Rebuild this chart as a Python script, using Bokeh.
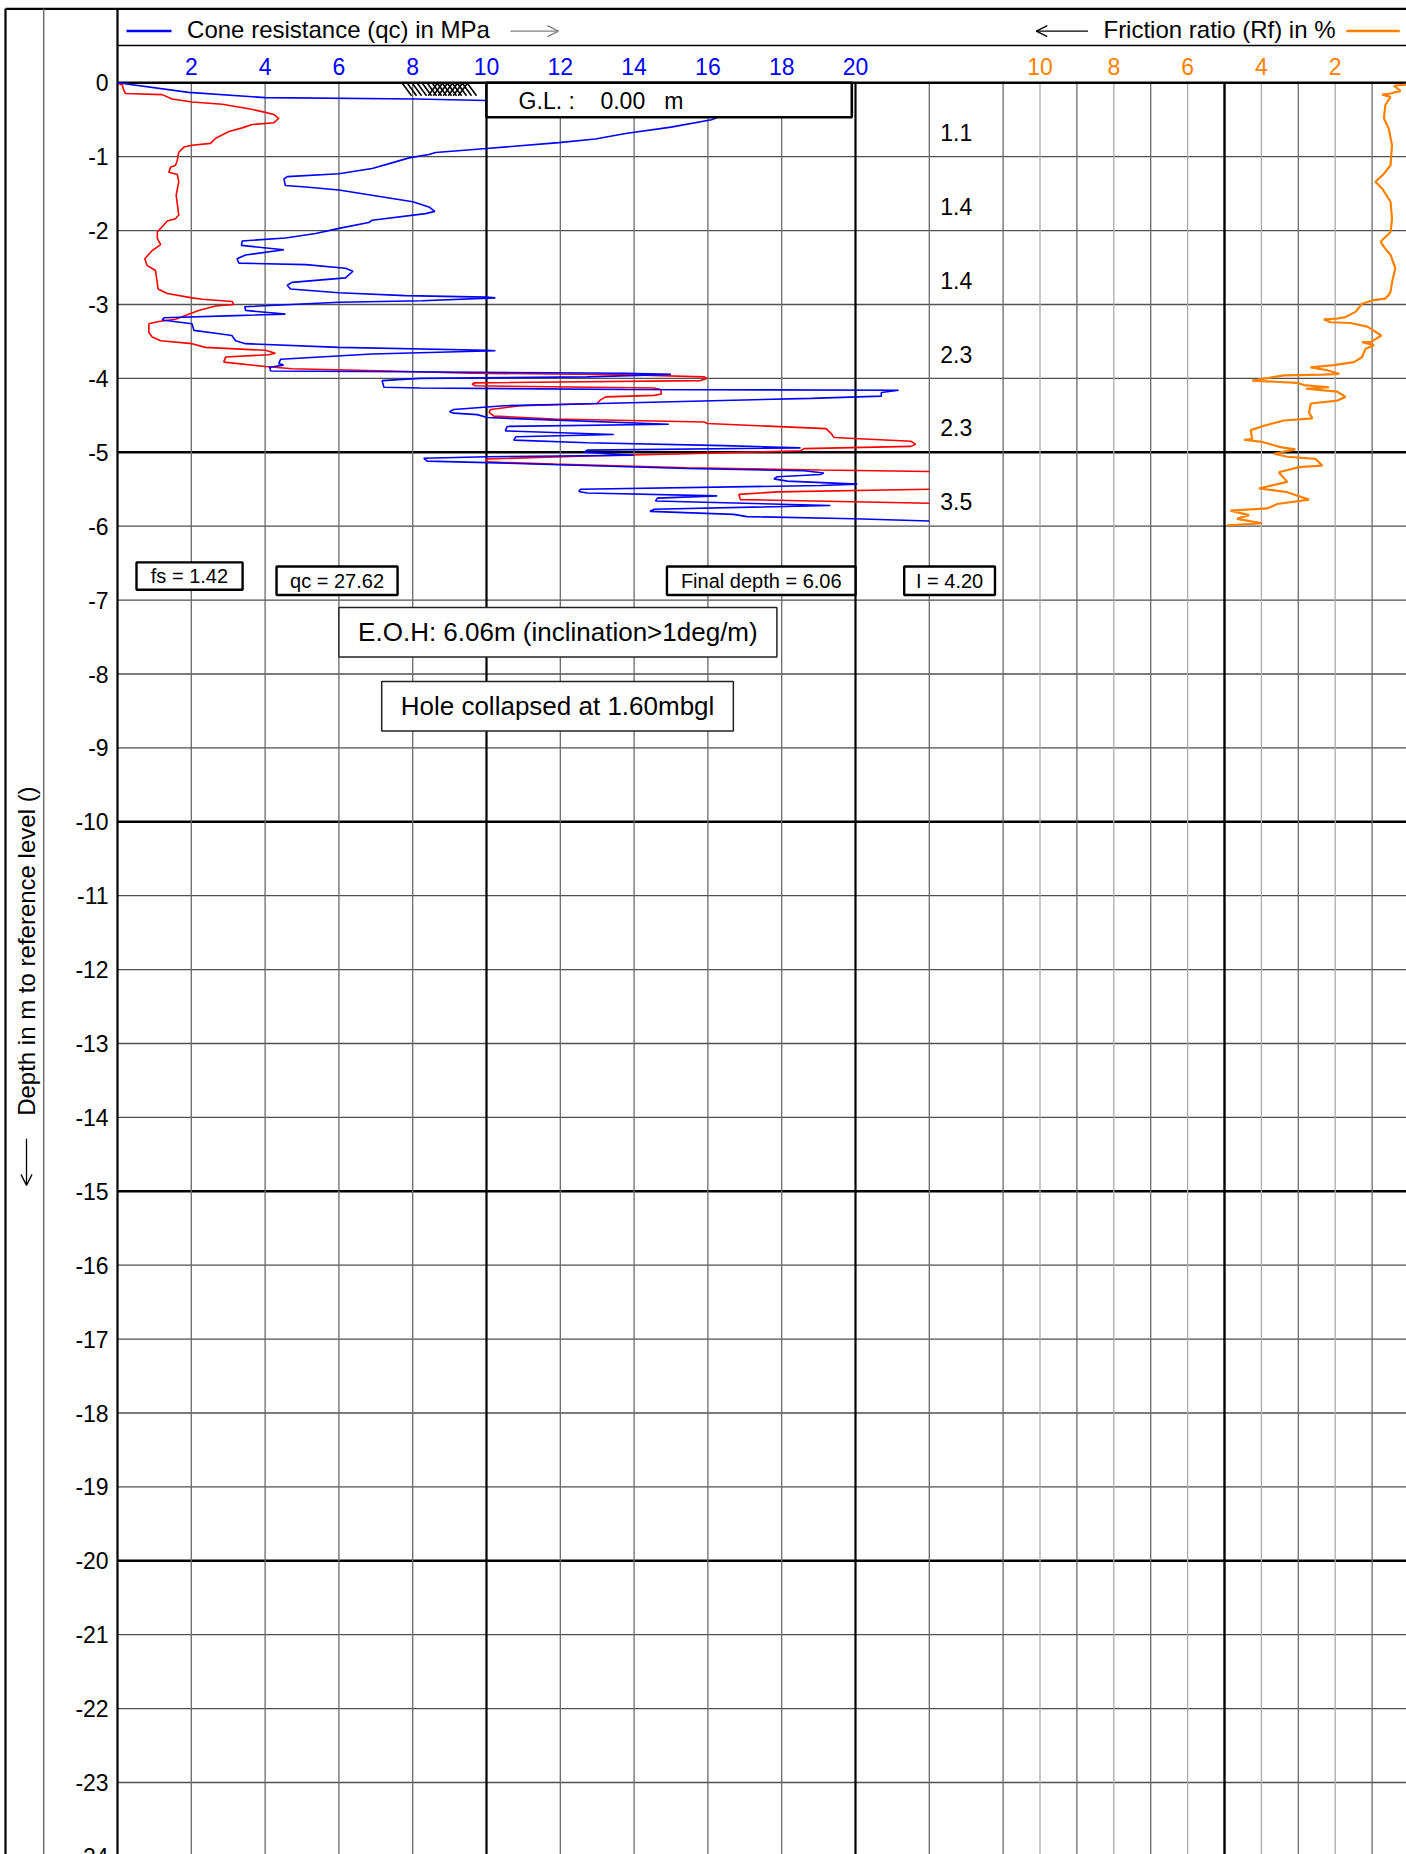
import math
from bokeh.plotting import figure
from bokeh.models import Range1d, Arrow, OpenHead, Label
from bokeh.core.properties import value
from bokeh.embed import file_html
from bokeh.resources import INLINE

nan = float("nan")
FONT = value("Liberation Sans")

# ---------------- data ----------------
depth_ticks = list(range(0, -25, -1))
depth_tick_labels = [str(d) for d in depth_ticks]
qc_ticks = [2, 4, 6, 8, 10, 12, 14, 16, 18, 20]
qc_tick_labels = [str(v) for v in qc_ticks]
rf_ticks = [10, 8, 6, 4, 2]
rf_tick_labels = [str(v) for v in rf_ticks]

layer_depth = [-0.67, -1.67, -2.67, -3.67, -4.67, -5.67]
layer_labels = ["1.1", "1.4", "1.4", "2.3", "2.3", "3.5"]

# cone resistance qc (MPa) vs depth (m)
qc_depth = [0.0, -0.13, -0.20, -0.22, -0.24, -0.42, -0.50, -0.60, -0.687, -0.76,
            -0.81, -0.89, -0.944, -0.97, -1.016, -1.07, -1.16, -1.23, -1.27, -1.30,
            -1.39, -1.41, -1.45, -1.61, -1.68, -1.74, -1.77, -1.86, -1.89, -1.97,
            -2.04, -2.10, -2.14, -2.20, -2.26, -2.33, -2.38, -2.44, -2.46, -2.51,
            -2.55, -2.64, -2.70, -2.74, -2.79, -2.84, -2.88, -2.90, -2.91, -2.95,
            -2.97, -3.03, -3.08, -3.13, -3.15, -3.18, -3.21, -3.26, -3.35, -3.39,
            -3.42, -3.49, -3.53, -3.58, -3.62, -3.625, -3.67, -3.74, -3.80, -3.82,
            -3.85, -3.90, -3.91, -3.93, -3.945, -3.98, -4.00, -4.03, -4.12, -4.13,
            -4.15, -4.16, -4.19, -4.24, -4.27, -4.34, -4.37, -4.42, -4.45, -4.47,
            -4.49, -4.53, -4.62, -4.65, -4.71, -4.76, -4.79, -4.835, -4.87, -4.91,
            -4.94, -4.97, -5.00, -5.04, -5.06, -5.08, -5.12, -5.14, -5.22, -5.25,
            -5.28, -5.30, -5.33, -5.36, -5.39, -5.43, -5.45, -5.50, -5.53, -5.55,
            -5.59, -5.62, -5.66, -5.72, -5.77, -5.80, -5.84, -5.87, -5.90, -5.93]
qc_values = [0.0, 1.93, 4.0, 8.1, 10.0, 16.5, 16.1, 15.0, 13.77, 12.95,
             11.96, 10.0, 8.62, 8.44, 7.9, 7.53, 6.9, 6.0, 4.6, 4.51,
             4.55, 5.1, 6.0, 8.0, 8.44, 8.6, 8.35, 6.9, 6.81, 6.0,
             5.37, 4.55, 3.38, 3.36, 4.51, 3.47, 3.24, 3.29, 5.1, 6.18,
             6.38, 6.18, 4.73, 4.6, 4.69, 6.0, 7.8, 10.0, 10.24, 8.26,
             6.0, 3.45, 3.47, 4.55, 3.2, 1.26, 1.21, 2.02, 2.07, 2.66,
             3.1, 3.2, 3.47, 6.0, 10.0, 10.24, 6.9, 4.42, 4.37, 4.5,
             4.12, 4.15, 7.8, 13.77, 15.0, 12.73, 8.2, 7.17, 7.22, 8.21,
             13.77, 21.17, 20.7, 20.7, 18.8, 13.09, 10.47, 9.11, 9.0, 9.11,
             9.75, 10.02, 14.94, 10.56, 10.51, 13.45, 10.79, 10.74, 12.73, 16.43,
             18.51, 12.73, 12.64, 13.99, 10.02, 8.3, 8.39, 10.02, 15.44, 18.6,
             19.14, 19.05, 17.88, 17.79, 18.15, 20.05, 19.05, 12.55, 12.5, 12.73,
             16.25, 14.63, 14.58, 19.32, 14.54, 14.43, 16.7, 17.06, 19.96, 22.0]

# sleeve friction (drawn on the qc scale, clipped at the 22 column edge)
fs_depth = [-0.01, -0.03, -0.10, -0.145, -0.16, -0.22, -0.26, -0.29, -0.35, -0.39,
            -0.43, -0.48, -0.54, -0.565, -0.61, -0.66, -0.75, -0.82, -0.845, -0.87,
            -0.94, -1.05, -1.12, -1.14, -1.21, -1.24, -1.34, -1.52, -1.79, -1.84,
            -1.87, -2.02, -2.11, -2.19, -2.27, -2.38, -2.47, -2.54, -2.79, -2.85,
            -2.91, -2.93, -2.96, -3.00, -3.02, -3.08, -3.14, -3.20, -3.23, -3.26,
            -3.38, -3.44, -3.49, -3.53, -3.58, -3.62, -3.66, -3.68, -3.71, -3.78,
            -3.84, -3.87, -3.90, -3.93, -3.95, -3.98, -4.00, -4.03, -4.06, -4.08,
            -4.10, -4.13, -4.15, -4.21, -4.23, -4.25, -4.29, -4.34, -4.37, -4.42,
            -4.46, -4.51, -4.55, -4.59, -4.61, -4.68, -4.74, -4.80, -4.85, -4.89,
            -4.92, -4.95, -4.98, -5.02, -5.05, -5.09, -5.13, -5.16, -5.21, -5.24,
            -5.26, nan, -5.50, -5.535, -5.57, -5.64, -5.69]
fs_values = [0.02, 0.13, 0.17, 0.22, 1.21, 1.48, 2.02, 2.84, 3.56, 3.92,
             4.24, 4.37, 4.24, 3.65, 3.38, 3.02, 2.66, 2.52, 2.02, 1.8,
             1.66, 1.62, 1.57, 1.44, 1.39, 1.62, 1.66, 1.59, 1.66, 1.57,
             1.35, 1.08, 1.08, 1.17, 0.94, 0.74, 0.80, 1.03, 1.10, 1.35,
             2.02, 2.30, 3.11, 3.15, 2.66, 2.2, 1.89, 1.57, 1.12, 0.85,
             0.85, 0.94, 1.17, 2.02, 2.38, 4.01, 4.28, 4.1, 2.93, 2.88,
             4.01, 4.73, 7.35, 9.61, 13.77, 15.9, 15.97, 15.8, 9.66, 9.61,
             9.7, 14.54, 14.72, 14.74, 14.54, 13.23, 13.09, 13.0, 10.92, 10.11,
             10.07, 10.2, 11.83, 15.9, 15.99, 19.2, 19.33, 19.42, 21.5, 21.63,
             21.5, 18.6, 18.51, 15.44, 12.73, 10.02, 9.97, 11.83, 15.44, 19.05,
             22.0, nan, 22.0, 17.88, 16.84, 16.88, 22.0]

# friction ratio Rf (%) vs depth (m)
rf_depth = [-0.023, -0.04, -0.11, -0.145, -0.16, -0.19, -0.30, -0.48, -0.62, -0.845,
            -1.115, -1.23, -1.34, -1.43, -1.61, -1.84, -2.02, -2.15, -2.22, -2.33,
            -2.51, -2.70, -2.83, -2.87, -2.92, -2.94, -2.99, -3.10, -3.17, -3.19,
            -3.20, -3.24, -3.25, -3.30, -3.42, -3.51, -3.51, -3.55, -3.60, -3.71,
            -3.78, -3.82, -3.85, -3.89, -3.94, -3.95, -3.96, -4.03, -4.06, -4.09,
            -4.12, -4.14, -4.18, -4.25, -4.30, -4.34, -4.46, -4.54, -4.57, -4.64,
            -4.70, -4.82, -4.83, -4.86, -4.93, -4.96, -5.02, -5.06, -5.09, -5.18,
            -5.20, -5.27, -5.40, -5.49, -5.54, -5.64, -5.70, -5.76, -5.79, -5.85,
            -5.90, -5.96, -5.99]
rf_values = [0.07, 0.41, 0.23, 0.50, 0.73, 0.50, 0.64, 0.68, 0.55, 0.46,
             0.50, 0.68, 0.91, 0.73, 0.50, 0.46, 0.50, 0.77, 0.68, 0.50,
             0.37, 0.46, 0.50, 0.55, 0.64, 0.95, 1.27, 1.45, 1.72, 1.95,
             2.31, 2.13, 1.59, 1.13, 0.75, 1.04, 1.27, 0.95, 1.18, 1.27,
             1.49, 2.04, 2.67, 2.21, 1.89, 2.31, 3.39, 4.25, 3.03, 2.85,
             2.17, 2.79, 1.94, 1.72, 1.94, 2.66, 2.71, 2.62, 3.39, 3.93,
             4.29, 4.25, 4.47, 3.98, 3.48, 3.08, 3.66, 3.30, 2.53, 2.35,
             2.98, 3.53, 3.30, 4.07, 3.30, 2.71, 3.57, 3.84, 4.84, 4.34,
             4.66, 3.98, 4.93]

assert len(qc_depth) == len(qc_values)
assert len(fs_depth) == len(fs_values)
assert len(rf_depth) == len(rf_values)

# pre-drilled (hatched) zone at the top of the qc column
hatch_qc_from, hatch_qc_to = 7.71, 9.48
hatch_cross_from, hatch_cross_to = 8.55, 9.35
hatch_bottom = -0.176

# ---------------- layout ----------------
W, H = 1406, 1854
PXX = 36.9                  # px per MPa
PXY = 73.9                  # px per m
X0 = -117.0 / PXX
X1 = X0 + W / PXX
Y1 = 82.3 / PXY
Y0 = Y1 - H / PXY
RF0 = 35.0                  # qc position of Rf = 0 (reversed Rf scale)

p = figure(width=W, height=H, x_range=Range1d(X0, X1), y_range=Range1d(Y0, Y1),
           x_axis_location=None, y_axis_location=None, toolbar_location=None,
           output_backend="svg", min_border=0)
p.extra_x_ranges = {"rf": Range1d(RF0 - X0, RF0 - X1)}
p.outline_line_color = None
p.background_fill_color = "white"
p.border_fill_color = "white"
p.xgrid.visible = False
p.ygrid.visible = False

# horizontal grid
minor_d = [d for d in depth_ticks if d % 5 != 0]
major_d = [d for d in depth_ticks if d % 5 == 0 and d != 0]
p.segment(x0=0, y0=minor_d, x1=X1, y1=minor_d, line_color="#4f4f4f", line_width=1.3)
p.segment(x0=0, y0=major_d, x1=X1, y1=major_d, line_color="black", line_width=2.4)

# vertical grid on qc scale
qc_grid = [v for v in range(2, 25, 2) if v not in (10, 20)]
p.segment(x0=qc_grid, y0=0, x1=qc_grid, y1=Y0, line_color="#6a6a6a", line_width=1.3)
p.segment(x0=[10, 20], y0=0, x1=[10, 20], y1=Y0, line_color="black", line_width=2.2)
# vertical grid on Rf scale
rf_odd = [9, 7, 3, 1]
rf_even = [10, 8, 6, 4, 2]
p.segment(x0=rf_even, y0=0, x1=rf_even, y1=Y0, line_color="#ababab", line_width=1.3, x_range_name="rf")
p.segment(x0=rf_odd, y0=0, x1=rf_odd, y1=Y0, line_color="#6a6a6a", line_width=1.3, x_range_name="rf")
p.segment(x0=[5], y0=0, x1=[5], y1=Y0, line_color="black", line_width=2.4, x_range_name="rf")

# header / frame lines
top_y = Y1 - 8.3 / PXY
left_x = X0 + 5.0 / PXX
p.segment(x0=left_x, y0=top_y, x1=X1, y1=top_y, line_color="black", line_width=2.2)
p.segment(x0=0, y0=0.505, x1=X1, y1=0.505, line_color="black", line_width=1.5)
p.segment(x0=0, y0=0, x1=X1, y1=0, line_color="black", line_width=2.6)
p.segment(x0=left_x, y0=Y0, x1=left_x, y1=top_y, line_color="black", line_width=2.2)
p.segment(x0=-2.0, y0=Y0, x1=-2.0, y1=top_y, line_color="#707070", line_width=1.5)
p.segment(x0=0, y0=Y0, x1=0, y1=top_y, line_color="black", line_width=2.2)

# curves
p.line(fs_values, fs_depth, line_color="#ff0000", line_width=1.6)
p.line(qc_values, qc_depth, line_color="#0000ff", line_width=1.6)
p.line(rf_values, rf_depth, line_color="#ff8000", line_width=2.2, x_range_name="rf")

# hatch lines of the pre-drilled zone
step = 5.0 / PXX
slant = 9.5 / PXX
n_back = int(round((hatch_qc_to - hatch_qc_from) / step)) + 1
back_top = [hatch_qc_from + i * step for i in range(n_back)]
p.segment(x0=back_top, y0=0, x1=[t + slant for t in back_top], y1=hatch_bottom,
          line_color="black", line_width=1.6)
n_fwd = int(round((hatch_cross_to - hatch_cross_from) / step)) + 1
fwd_mid = [hatch_cross_from + i * step for i in range(n_fwd)]
p.segment(x0=[m + slant / 2 for m in fwd_mid], y0=0, x1=[m - slant / 2 for m in fwd_mid],
          y1=hatch_bottom, line_color="black", line_width=1.6)

# boxes
p.quad(left=[10.0], right=[19.9], top=[0.0], bottom=[-0.466], fill_color="white",
       line_color="black", line_width=2.6)
p.quad(left=[0.515, 4.31, 14.89, 21.32], right=[3.39, 7.59, 20.0, 23.78],
       top=[-6.49, -6.545, -6.545, -6.545], bottom=[-6.86, -6.93, -6.93, -6.93],
       fill_color="white", line_color="black", line_width=2.4)
p.quad(left=[6.0, 7.16], right=[17.87, 16.69], top=[-7.10, -8.10], bottom=[-7.77, -8.77],
       fill_color="white", line_color="#222222", line_width=1.5)

# texts
def txt(x, y, t, size, align="center", color="black", **kw):
    p.text(x=x, y=y, text=t, text_font=FONT, text_font_size=size, text_align=align,
           text_baseline="middle", text_color=color, **kw)

in_rng = [i for i, d in enumerate(depth_ticks) if d >= Y0]
out_rng = [i for i, d in enumerate(depth_ticks) if d < Y0]
txt([-0.24] * len(in_rng), [depth_ticks[i] for i in in_rng],
    [depth_tick_labels[i] for i in in_rng], "23px", align="right")
for i in out_rng:
    p.add_layout(Label(x=-0.24, y=depth_ticks[i], text=depth_tick_labels[i],
                       text_font="Liberation Sans", text_font_size="23px",
                       text_align="right", text_baseline="middle", text_color="black"))

txt(qc_ticks, [0.214] * len(qc_ticks), qc_tick_labels, "23px", color="#0000ff")
p.text(x=rf_ticks, y=[0.214] * len(rf_ticks), text=rf_tick_labels, text_font=FONT,
       text_font_size="23px", text_align="center", text_baseline="middle",
       text_color="#ff8000", x_range_name="rf")

txt([1.886], [0.715], ["Cone resistance (qc) in MPa"], "24px", align="left")
txt([26.72], [0.715], ["Friction ratio (Rf) in %"], "24px", align="left")
p.segment(x0=[0.244], y0=[0.70], x1=[1.464], y1=[0.70], line_color="#0000ff", line_width=2.6)
p.segment(x0=[33.3], y0=[0.70], x1=[34.75], y1=[0.70], line_color="#ff8000", line_width=2.6)
p.add_layout(Arrow(end=OpenHead(size=11, line_color="#808080", line_width=1.3),
                   x_start=10.65, y_start=0.70, x_end=11.95, y_end=0.70,
                   line_color="#808080", line_width=1.3))
p.add_layout(Arrow(end=OpenHead(size=11, line_color="black", line_width=1.3),
                   x_start=26.3, y_start=0.70, x_end=24.9, y_end=0.70,
                   line_color="black", line_width=1.3))

txt([-2.466], [-11.75], ["Depth in m to reference level ()"], "24px", angle=math.pi / 2)
p.add_layout(Arrow(end=OpenHead(size=11, line_color="black", line_width=1.3),
                   x_start=-2.466, y_start=-14.29, x_end=-2.466, y_end=-14.92,
                   line_color="black", line_width=1.3))

txt([10.87], [-0.24], ["G.L. :\u00a0\u00a0\u00a0 0.00\u00a0\u00a0 m"], "23px", align="left")
txt([22.73] * len(layer_depth), layer_depth, layer_labels, "23px")

txt([1.95, 5.95, 17.445, 22.55], [-6.68, -6.74, -6.74, -6.74],
    ["fs = 1.42", "qc = 27.62", "Final depth = 6.06", "I = 4.20"], "20px")
txt([11.935], [-7.435], ["E.O.H: 6.06m (inclination>1deg/m)"], "26px")
txt([11.925], [-8.435], ["Hole collapsed at 1.60mbgl"], "26px")

open("out.html", "w").write(file_html(p, INLINE))
